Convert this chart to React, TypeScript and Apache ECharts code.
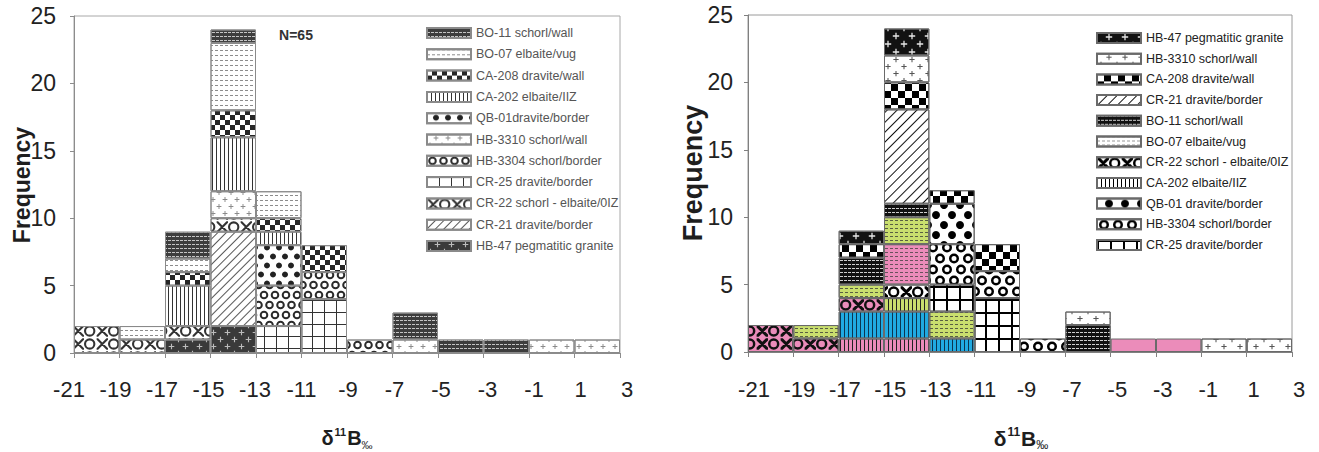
import React, { useEffect, useRef } from 'react';
import * as echarts from 'echarts';

// ---------------- data ----------------
// bins of width 2 permil, named by their lower edge
const bins = ['-21', '-19', '-17', '-15', '-13', '-11', '-9', '-7', '-5', '-3', '-1', '1'];
const tickLabels = ['-21', '-19', '-17', '-15', '-13', '-11', '-9', '-7', '-5', '-3', '-1', '1', '3'];

// Left histogram (stack order bottom -> top)
const leftHB47 = [0, 0, 1, 2, 0, 0, 0, 0, 0, 0, 0, 0];
const leftCR21 = [0, 0, 0, 7, 0, 0, 0, 0, 0, 0, 0, 0];
const leftCR22 = [2, 1, 1, 1, 0, 0, 0, 0, 0, 0, 0, 0];
const leftCR25 = [0, 0, 0, 0, 2, 4, 0, 0, 0, 0, 0, 0];
const leftHB3304 = [0, 0, 0, 0, 3, 2, 1, 0, 0, 0, 0, 0];
const leftHB3310 = [0, 0, 0, 2, 0, 0, 0, 1, 0, 0, 1, 1];
const leftQB01 = [0, 0, 0, 0, 3, 0, 0, 0, 0, 0, 0, 0];
const leftCA202 = [0, 0, 3, 4, 1, 0, 0, 0, 0, 0, 0, 0];
const leftCA208 = [0, 0, 1, 2, 1, 2, 0, 0, 0, 0, 0, 0];
const leftBO07 = [0, 1, 1, 5, 2, 0, 0, 0, 0, 0, 0, 0];
const leftBO11 = [0, 0, 2, 1, 0, 0, 0, 2, 1, 1, 0, 0];

// Right histogram (stack order bottom -> top; coloured sub-groups)
const rCA202pink = [0, 0, 1, 1, 0, 0, 0, 0, 0, 0, 0, 0];
const rCA202cyan = [0, 0, 2, 2, 1, 0, 0, 0, 0, 0, 0, 0];
const rCA202green = [0, 0, 0, 1, 0, 0, 0, 0, 0, 0, 0, 0];
const rCA202 = [0, 0, 0, 0, 0, 0, 0, 0, 0, 0, 0, 0];
const rCR22pink = [2, 1, 1, 0, 0, 0, 0, 0, 0, 0, 0, 0];
const rCR22 = [0, 0, 0, 1, 0, 0, 0, 0, 0, 0, 0, 0];
const rBO07pink = [0, 0, 0, 3, 0, 0, 0, 0, 0, 0, 0, 0];
const rBO07green = [0, 1, 1, 2, 2, 0, 0, 0, 0, 0, 0, 0];
const rBO07 = [0, 0, 0, 0, 0, 0, 0, 0, 0, 0, 0, 0];
const rCR25 = [0, 0, 0, 0, 2, 4, 0, 0, 0, 0, 0, 0];
const rHB3304 = [0, 0, 0, 0, 3, 2, 1, 0, 0, 0, 0, 0];
const rQB01 = [0, 0, 0, 0, 3, 0, 0, 0, 0, 0, 0, 0];
const rBO11pink = [0, 0, 0, 0, 0, 0, 0, 0, 1, 1, 0, 0];
const rBO11 = [0, 0, 2, 1, 0, 0, 0, 2, 0, 0, 0, 0];
const rCR21 = [0, 0, 0, 7, 0, 0, 0, 0, 0, 0, 0, 0];
const rCA208 = [0, 0, 1, 2, 1, 2, 0, 0, 0, 0, 0, 0];
const rHB3310 = [0, 0, 0, 2, 0, 0, 0, 1, 0, 0, 1, 1];
const rHB47 = [0, 0, 1, 2, 0, 0, 0, 0, 0, 0, 0, 0];

const leftLegend = [
  'BO-11 schorl/wall', 'BO-07 elbaite/vug', 'CA-208 dravite/wall', 'CA-202 elbaite/IIZ',
  'QB-01dravite/border', 'HB-3310 schorl/wall', 'HB-3304 schorl/border', 'CR-25 dravite/border',
  'CR-22 schorl - elbaite/0IZ', 'CR-21 dravite/border', 'HB-47 pegmatitic granite',
];
const rightLegend = [
  'HB-47 pegmatitic granite', 'HB-3310 schorl/wall', 'CA-208 dravite/wall', 'CR-21 dravite/border',
  'BO-11 schorl/wall', 'BO-07 elbaite/vug', 'CR-22 schorl - elbaite/0IZ', 'CA-202 elbaite/IIZ',
  'QB-01 dravite/border', 'HB-3304 schorl/border', 'CR-25 dravite/border',
];

// ---------------- styles ----------------
const NARROW = "'Liberation Sans Narrow', 'Arial Narrow', 'Liberation Sans', Arial, sans-serif";
const SANS = "'Liberation Sans', Arial, Helvetica, sans-serif";
const PINK = '#eb8cba';
const GREEN = '#c9de6e';
const CYAN = '#20aae2';

const PLUS = 'path://M2,0H3V5H2ZM0,2H5V3H0Z';
const XO = 'path://M0,0L1.6,0L12,10.4L12,12L10.4,12L0,1.6ZM12,0L12,1.6L1.6,12L0,12L0,10.4L10.4,0ZM18,0A6,6,0,1,1,18,12A6,6,0,1,1,18,0ZM18,2.2A3.8,3.8,0,1,0,18,9.8A3.8,3.8,0,1,0,18,2.2Z';
const XO_R = 'path://M0,0L2.2,0L12,9.8L12,12L9.8,12L0,2.2ZM12,0L12,2.2L2.2,12L0,12L0,9.8L9.8,0ZM18,0A6,6,0,1,1,18,12A6,6,0,1,1,18,0ZM18,2.6A3.4,3.4,0,1,0,18,9.4A3.4,3.4,0,1,0,18,2.6Z';
const GRID_L = 'path://M0,0H12V1H0ZM0,0H1V12H0Z';
const GRID_R = 'path://M0,0H13V2H0ZM0,0H2V13H0Z';

// staggered ring tile (W x H): one full ring + two half rings, bbox forced to the tile
function ringTile(W: number, H: number, ro: number, ri: number) {
  const cx = W / 2;
  const cy = H / 4;
  const cy2 = (3 * H) / 4;
  return (
    'path://M0,0L0,0Z' +
    `M${cx},${cy - ro}A${ro},${ro},0,1,1,${cx},${cy + ro}A${ro},${ro},0,1,1,${cx},${cy - ro}Z` +
    `M${cx},${cy - ri}A${ri},${ri},0,1,0,${cx},${cy + ri}A${ri},${ri},0,1,0,${cx},${cy - ri}Z` +
    `M0,${cy2 - ro}A${ro},${ro},0,0,1,0,${cy2 + ro}L0,${cy2 + ri}A${ri},${ri},0,0,0,0,${cy2 - ri}Z` +
    `M${W},${cy2 - ro}A${ro},${ro},0,0,0,${W},${cy2 + ro}L${W},${cy2 + ri}A${ri},${ri},0,0,1,${W},${cy2 - ri}Z` +
    `M${W},${H}L${W},${H}Z`
  );
}
const RING_L = ringTile(11, 20, 4.3, 2.3);
const RING_R = ringTile(14, 22, 5, 2.5);

const vLines = (c: string, w = 1, g = 3) => ({ symbol: 'rect', symbolSize: 1, dashArrayX: [w, g], dashArrayY: [4, 0], color: c });
const hDash = (c: string) => ({ symbol: 'rect', symbolSize: 1, dashArrayX: [3, 2], dashArrayY: [1, 3], color: c });

const L: Record<string, any> = {
  BO11: { bg: '#3d3d3d', decal: { symbol: 'rect', symbolSize: 1, dashArrayX: [3, 1], dashArrayY: [1, 3], color: 'rgba(255,255,255,0.7)' } },
  BO07: { bg: '#ffffff', decal: { symbol: 'rect', symbolSize: 1, dashArrayX: [3, 2], dashArrayY: [1, 4], color: '#8c8c8c' } },
  CA208: { bg: '#ffffff', decal: { symbol: 'rect', symbolSize: 1, dashArrayX: [[5, 5], [0, 5, 5, 0]], dashArrayY: [5, 0], color: '#262626' } },
  CA202: { bg: '#ffffff', decal: vLines('#333') },
  QB01: { bg: '#ffffff', decal: { symbol: 'circle', symbolSize: 1, dashArrayX: [[6, 6], [0, 6, 6, 0]], dashArrayY: [9, 0], color: '#222' } },
  HB3310: { bg: '#ffffff', decal: { symbol: PLUS, symbolSize: 0.8, dashArrayX: [[6, 6], [0, 6, 6, 0]], dashArrayY: [7, 0], color: '#8a8a8a' } },
  HB3304: { bg: '#ffffff', decal: { symbol: RING_L, symbolSize: 1, symbolKeepAspect: false, dashArrayX: [11, 0], dashArrayY: [20, 0], color: '#2a2a2a' } },
  CR25: { bg: '#ffffff', decal: { symbol: GRID_L, symbolSize: 1, dashArrayX: [12, 0], dashArrayY: [12, 0], color: '#333' } },
  CR22: { bg: '#ffffff', decal: { symbol: XO, symbolSize: 0.95, dashArrayX: [24, 0], dashArrayY: [12, 1], color: '#333' } },
  CR21: { bg: '#ffffff', decal: { symbol: 'rect', symbolSize: 1, dashArrayX: [1, 0], dashArrayY: [1, 5], rotation: -Math.PI / 4, color: '#555' } },
  HB47: { bg: '#3a3a3a', decal: { symbol: PLUS, symbolSize: 0.8, dashArrayX: [[7, 7], [0, 7, 7, 0]], dashArrayY: [7, 0], color: 'rgba(210,210,210,0.85)' } },
};

const R: Record<string, any> = {
  HB47: { bg: '#121212', decal: { symbol: PLUS, symbolSize: 0.8, dashArrayX: [[8, 8], [0, 8, 8, 0]], dashArrayY: [8, 0], color: '#e6e6e6' } },
  HB3310: { bg: '#ffffff', decal: { symbol: PLUS, symbolSize: 0.75, dashArrayX: [[8, 8], [0, 8, 8, 0]], dashArrayY: [7, 0], color: '#555' } },
  CA208: { bg: '#ffffff', decal: { symbol: 'rect', symbolSize: 1, dashArrayX: [[7, 7], [0, 7, 7, 0]], dashArrayY: [7, 0], color: '#000' } },
  CR21: { bg: '#ffffff', decal: { symbol: 'rect', symbolSize: 1, dashArrayX: [1, 0], dashArrayY: [1, 6], rotation: -Math.PI / 4, color: '#111' } },
  BO11: { bg: '#111111', decal: { symbol: 'rect', symbolSize: 1, dashArrayX: [3, 1], dashArrayY: [1, 3], color: 'rgba(255,255,255,0.8)' } },
  BO07: { bg: '#ffffff', decal: hDash('#999') },
  CR22: { bg: '#ffffff', decal: { symbol: XO_R, symbolSize: 0.95, dashArrayX: [24, 0], dashArrayY: [12, 1], color: '#000' } },
  CA202: { bg: '#ffffff', decal: vLines('#000') },
  QB01: { bg: '#ffffff', decal: { symbol: 'circle', symbolSize: 1, dashArrayX: [[8, 8], [0, 8, 8, 0]], dashArrayY: [10, 0], color: '#000' } },
  HB3304: { bg: '#ffffff', decal: { symbol: RING_R, symbolSize: 1, symbolKeepAspect: false, dashArrayX: [14, 0], dashArrayY: [22, 0], color: '#000' } },
  CR25: { bg: '#ffffff', decal: { symbol: GRID_R, symbolSize: 1, dashArrayX: [13, 0], dashArrayY: [13, 0], color: '#000' } },
  CA202pink: { bg: PINK, decal: vLines('#222') },
  CA202cyan: { bg: CYAN, decal: vLines('#0b3550') },
  CA202green: { bg: GREEN, decal: vLines('#222') },
  CR22pink: { bg: PINK, decal: { symbol: XO_R, symbolSize: 0.95, dashArrayX: [24, 0], dashArrayY: [12, 1], color: '#111' } },
  BO07pink: { bg: PINK, decal: hDash('rgba(60,60,60,0.75)') },
  BO07green: { bg: GREEN, decal: hDash('rgba(50,50,50,0.75)') },
  BO11pink: { bg: PINK },
};

function bar(name: string, values: number[], st: any, border: string) {
  const itemStyle: any = { color: st.bg, borderColor: border, borderWidth: 1 };
  if (st.decal) itemStyle.decal = st.decal;
  return {
    name,
    type: 'bar',
    stack: 'total',
    xAxisIndex: 0,
    yAxisIndex: 0,
    barCategoryGap: '0%',
    data: values.map((v) => (v === 0 ? '-' : v)),
    itemStyle,
    emphasis: { disabled: true },
  };
}

const LB = '#8a8a8a';
const leftSeries = [
  bar('HB-47 pegmatitic granite', leftHB47, L.HB47, LB),
  bar('CR-21 dravite/border', leftCR21, L.CR21, LB),
  bar('CR-22 schorl - elbaite/0IZ', leftCR22, L.CR22, LB),
  bar('CR-25 dravite/border', leftCR25, L.CR25, LB),
  bar('HB-3304 schorl/border', leftHB3304, L.HB3304, LB),
  bar('HB-3310 schorl/wall', leftHB3310, L.HB3310, LB),
  bar('QB-01dravite/border', leftQB01, L.QB01, LB),
  bar('CA-202 elbaite/IIZ', leftCA202, L.CA202, LB),
  bar('CA-208 dravite/wall', leftCA208, L.CA208, LB),
  bar('BO-07 elbaite/vug', leftBO07, L.BO07, LB),
  bar('BO-11 schorl/wall', leftBO11, L.BO11, LB),
];

const RB = '#6a6a6a';
const rightSeries = [
  bar('CA-202 pink', rCA202pink, R.CA202pink, RB),
  bar('CA-202 cyan', rCA202cyan, R.CA202cyan, RB),
  bar('CA-202 green', rCA202green, R.CA202green, RB),
  bar('CA-202 elbaite/IIZ', rCA202, R.CA202, RB),
  bar('CR-22 pink', rCR22pink, R.CR22pink, RB),
  bar('CR-22 schorl - elbaite/0IZ', rCR22, R.CR22, RB),
  bar('BO-07 pink', rBO07pink, R.BO07pink, RB),
  bar('BO-07 green', rBO07green, R.BO07green, RB),
  bar('BO-07 elbaite/vug', rBO07, R.BO07, RB),
  bar('CR-25 dravite/border', rCR25, R.CR25, RB),
  bar('HB-3304 schorl/border', rHB3304, R.HB3304, RB),
  bar('QB-01 dravite/border', rQB01, R.QB01, RB),
  bar('BO-11 pink', rBO11pink, R.BO11pink, RB),
  bar('BO-11 schorl/wall', rBO11, R.BO11, RB),
  bar('CR-21 dravite/border', rCR21, R.CR21, RB),
  bar('CA-208 dravite/wall', rCA208, R.CA208, RB),
  bar('HB-3310 schorl/wall', rHB3310, R.HB3310, RB),
  bar('HB-47 pegmatitic granite', rHB47, R.HB47, RB),
];

function buildOption(cfg: any) {
  const graphic: any[] = [
    {
      type: 'text',
      x: cfg.freqX,
      y: cfg.freqY,
      rotation: Math.PI / 2,
      style: {
        text: 'Frequency',
        fontSize: cfg.freqSize,
        fontWeight: 'bold',
        fontFamily: SANS,
        fill: '#1e1e1e',
        align: 'center',
        verticalAlign: 'middle',
        textAlign: 'center',
        textVerticalAlign: 'middle',
      },
    },
    {
      type: 'text',
      x: cfg.titleX,
      y: cfg.titleY,
      style: {
        text: '{a|δ}{s|11}{a|B}{b|‰}',
        align: 'center',
        verticalAlign: 'middle',
        textAlign: 'center',
        textVerticalAlign: 'middle',
        rich: {
          a: { fontSize: cfg.titleSize, fontWeight: 'bold', fontFamily: SANS, fill: '#1e1e1e', lineHeight: cfg.titleSize + 4 },
          s: { fontSize: Math.round(cfg.titleSize * 0.55), fontWeight: 'bold', fontFamily: SANS, fill: '#1e1e1e', verticalAlign: 'top', padding: [0, 1, 0, 1] },
          b: { fontSize: Math.round(cfg.titleSize * 0.55), fontWeight: 'normal', fontFamily: SANS, fill: '#1e1e1e', verticalAlign: 'bottom' },
        },
      },
    },
  ];
  if (cfg.nText) {
    graphic.push({
      type: 'text',
      x: cfg.nX,
      y: cfg.nY,
      style: {
        text: cfg.nText,
        fontSize: 14,
        fontWeight: 'bold',
        fontFamily: SANS,
        fill: '#333',
        align: 'center',
        verticalAlign: 'middle',
        textAlign: 'center',
        textVerticalAlign: 'middle',
      },
    });
  }
  return {
    animation: false,
    backgroundColor: '#ffffff',
    grid: [
      {
        left: cfg.gridLeft, top: cfg.gridTop, width: cfg.gridWidth, height: cfg.gridHeight,
        show: true, borderColor: cfg.frame, borderWidth: 1, backgroundColor: 'transparent',
        outerBoundsMode: 'none', containLabel: false,
      },
      {
        left: cfg.labLeft, top: 375, width: cfg.labWidth, height: 1, show: false,
        outerBoundsMode: 'none', containLabel: false,
      },
    ],
    xAxis: [
      {
        type: 'category', gridIndex: 0, data: bins, boundaryGap: true,
        axisLine: { show: true, lineStyle: { color: cfg.axisColor, width: 1 } },
        axisTick: { show: true, length: 5, alignWithLabel: false, interval: 0, lineStyle: { color: cfg.axisColor } },
        axisLabel: { show: false },
        splitLine: { show: false },
      },
      {
        type: 'category', gridIndex: 1, data: tickLabels, boundaryGap: false,
        axisLine: { show: false }, axisTick: { show: false }, splitLine: { show: false },
        axisLabel: { show: true, interval: 0, margin: 2, fontSize: 22, fontFamily: NARROW, color: '#222', hideOverlap: false },
      },
    ],
    yAxis: [
      {
        type: 'value', gridIndex: 0, min: 0, max: 25, interval: 5,
        axisLine: { show: true, lineStyle: { color: cfg.axisColor, width: 1 } },
        axisTick: { show: true, length: 4, lineStyle: { color: cfg.axisColor } },
        splitLine: { show: false },
        axisLabel: { fontSize: 23, fontFamily: NARROW, color: '#222', margin: cfg.yMargin },
      },
      { type: 'value', gridIndex: 1, show: false },
    ],
    legend: {
      orient: 'vertical',
      left: cfg.legLeft,
      top: cfg.legTop,
      padding: 0,
      itemWidth: 44,
      itemHeight: 10,
      itemGap: cfg.legGap,
      icon: 'rect',
      selectedMode: false,
      textStyle: { fontSize: 12.5, color: cfg.legColor, fontFamily: SANS, lineHeight: 14 },
      data: cfg.legend,
    },
    graphic,
    series: cfg.series,
  };
}

const leftOption = buildOption({
  gridLeft: 74, gridTop: 16, gridWidth: 546, gridHeight: 337,
  labLeft: 69, labWidth: 558,
  frame: '#a8a8a8', axisColor: '#8c8c8c', yMargin: 18,
  legLeft: 426, legTop: 26, legGap: 7.3, legColor: '#555', legend: leftLegend,
  freqX: 22, freqY: 185, freqSize: 23,
  titleX: 347, titleY: 438, titleSize: 20,
  nText: 'N=65', nX: 296, nY: 35,
  series: leftSeries,
});

const rightOption = buildOption({
  gridLeft: 88, gridTop: 15, gridWidth: 544, gridHeight: 337,
  labLeft: 94, labWidth: 545,
  frame: '#9a9a9a', axisColor: '#808080', yMargin: 15,
  legLeft: 436, legTop: 31, legGap: 6.7, legColor: '#222', legend: rightLegend,
  freqX: 33, freqY: 173, freqSize: 27,
  titleX: 361, titleY: 438, titleSize: 21,
  series: rightSeries,
});

function EChart({ option, style }: { option: any; style: React.CSSProperties }) {
  const ref = useRef<HTMLDivElement | null>(null);
  useEffect(() => {
    if (!ref.current) return;
    const chart = echarts.init(ref.current, null, { renderer: 'svg' });
    chart.setOption(option);
    return () => chart.dispose();
  }, [option]);
  return <div ref={ref} style={style} />;
}

export default function App() {
  return (
    <div style={{ position: 'absolute', left: 0, top: 0, width: 1319, height: 452, background: '#ffffff' }}>
      <EChart option={leftOption} style={{ position: 'absolute', left: 0, top: 0, width: 660, height: 452 }} />
      <EChart option={rightOption} style={{ position: 'absolute', left: 660, top: 0, width: 659, height: 452 }} />
    </div>
  );
}
